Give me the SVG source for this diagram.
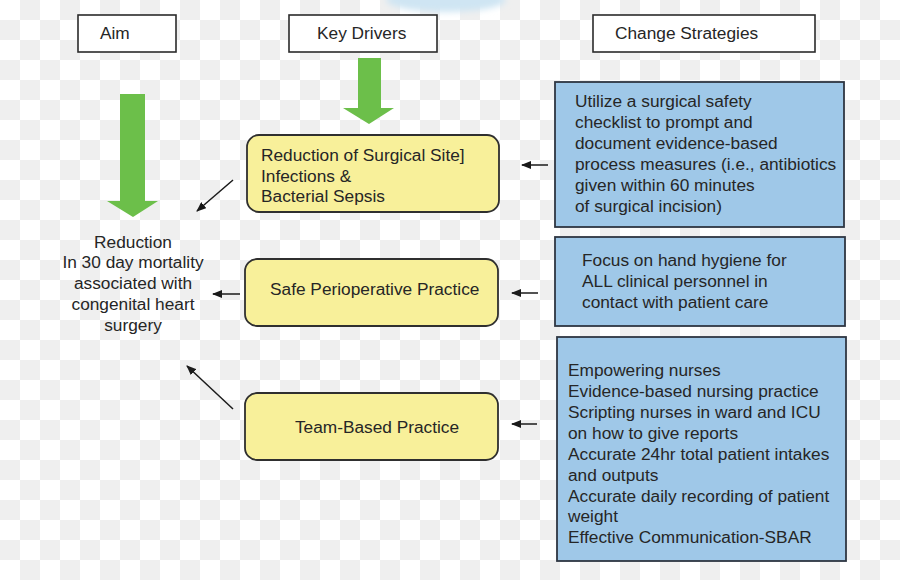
<svg xmlns="http://www.w3.org/2000/svg" width="900" height="580" viewBox="0 0 900 580">
<defs>
<pattern id="checker" x="0" y="0" width="40" height="40" patternUnits="userSpaceOnUse">
<rect width="40" height="40" fill="#ffffff"/>
<rect x="20" y="0" width="20" height="20" fill="#efefef"/>
<rect x="0" y="20" width="20" height="20" fill="#efefef"/>
</pattern>
<marker id="ah" markerWidth="10" markerHeight="8" refX="9" refY="4" orient="auto" markerUnits="userSpaceOnUse">
<path d="M0,0 L10,4 L0,8 Z" fill="#1a1a1a"/>
</marker>
<filter id="blur" x="-50%" y="-50%" width="200%" height="200%"><feGaussianBlur stdDeviation="3"/></filter>
</defs>
<style>
text{font-family:"Liberation Sans",Arial,sans-serif;font-size:17.3px;fill:#262626}
.hdr{fill:#ffffff;stroke:#2b2b2b;stroke-width:1.6}
.drv{fill:#f8f09a;stroke:#2f2f2f;stroke-width:1.8}
.str{fill:#9fc8e8;stroke:#2e3642;stroke-width:1.8}
.grn{fill:#6cbf4a}
.con{stroke:#1a1a1a;stroke-width:1.5;fill:none;marker-end:url(#ah)}
.mid{text-anchor:middle}
</style>
<rect width="900" height="580" fill="url(#checker)"/>
<ellipse cx="446" cy="0" rx="60" ry="12" fill="#cfe5f3" filter="url(#blur)"/>

<g id="hdr-aim">
<rect class="hdr" x="78" y="15" width="98" height="37"/>
<text x="100" y="39">Aim</text>
</g>
<g id="hdr-drivers">
<rect class="hdr" x="289" y="15" width="148" height="37"/>
<text x="317" y="39">Key Drivers</text>
</g>
<g id="hdr-strategies">
<rect class="hdr" x="593" y="15" width="222" height="37"/>
<text x="615" y="39">Change Strategies</text>
</g>

<g id="green-arrow-aim">
<path class="grn" d="M120,94 H145 V201 H158 L133,217 L107,201 H120 Z"/>
</g>
<g id="green-arrow-drivers">
<path class="grn" d="M358,58 H381 V108 H394 L369,124 L343,108 H358 Z"/>
</g>

<g id="aim">
<text class="mid" x="133" y="247.5">Reduction</text>
<text class="mid" x="133" y="268.3">In 30 day mortality</text>
<text class="mid" x="133" y="289.1">associated with</text>
<text class="mid" x="133" y="309.9">congenital heart</text>
<text class="mid" x="133" y="330.7">surgery</text>
</g>

<g id="driver-ssi">
<rect class="drv" x="247" y="135" width="252" height="77" rx="12"/>
<text x="261" y="161">Reduction of Surgical Site]</text>
<text x="261" y="181.5">Infections &amp;</text>
<text x="261" y="202">Bacterial Sepsis</text>
</g>
<g id="driver-periop">
<rect class="drv" x="245" y="259" width="253" height="67" rx="12"/>
<text x="270" y="295">Safe Perioperative Practice</text>
</g>
<g id="driver-team">
<rect class="drv" x="245" y="393" width="253" height="67" rx="12"/>
<text class="mid" x="377" y="432.5">Team-Based Practice</text>
</g>

<g id="strategy-checklist">
<rect class="str" x="555" y="82" width="289" height="145"/>
<text x="575" y="107">Utilize a surgical safety</text>
<text x="575" y="128">checklist to prompt and</text>
<text x="575" y="149">document evidence-based</text>
<text x="575" y="170">process measures (i.e., antibiotics</text>
<text x="575" y="191">given within 60 minutes</text>
<text x="575" y="212">of surgical incision)</text>
</g>
<g id="strategy-hygiene">
<rect class="str" x="555" y="237" width="290" height="89"/>
<text x="582" y="266">Focus on hand hygiene for</text>
<text x="582" y="287">ALL clinical personnel in</text>
<text x="582" y="308">contact with patient care</text>
</g>
<g id="strategy-nursing">
<rect class="str" x="557" y="337" width="289" height="224"/>
<text x="568" y="376">Empowering nurses</text>
<text x="568" y="397">Evidence-based nursing practice</text>
<text x="568" y="418">Scripting nurses in ward and ICU</text>
<text x="568" y="439">on how to give reports</text>
<text x="568" y="459.5">Accurate 24hr total patient intakes</text>
<text x="568" y="480.5">and outputs</text>
<text x="568" y="501.5">Accurate daily recording of patient</text>
<text x="568" y="522">weight</text>
<text x="568" y="543">Effective Communication-SBAR</text>
</g>

<g id="connectors">
<line class="con" x1="233" y1="180" x2="197" y2="211"/>
<line class="con" x1="240" y1="294" x2="213" y2="294"/>
<line class="con" x1="233" y1="409" x2="187" y2="366"/>
<line class="con" x1="548" y1="165" x2="522" y2="165"/>
<line class="con" x1="538" y1="293" x2="512" y2="293"/>
<line class="con" x1="537" y1="424" x2="512" y2="424"/>
</g>
</svg>
